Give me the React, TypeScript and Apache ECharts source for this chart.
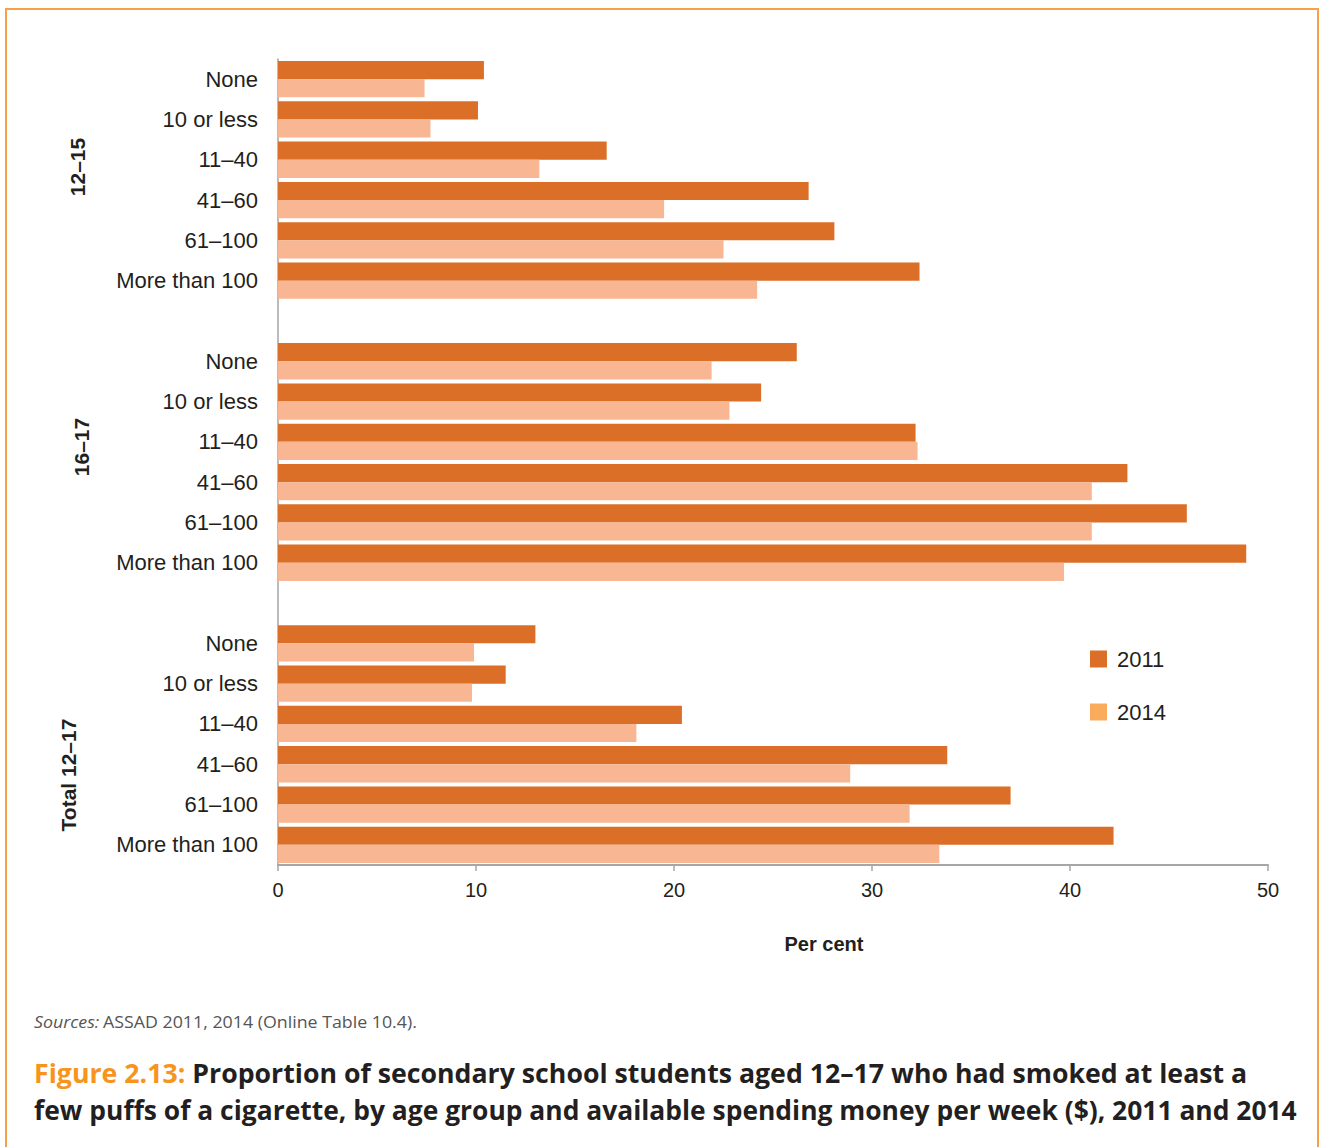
import React, { useEffect, useRef } from "react";
import * as echarts from "echarts";

const categories = ["None", "10 or less", "11–40", "41–60", "61–100", "More than 100"];
const groups = ["12–15", "16–17", "Total 12–17"];
const v2011_12_15 = [10.4, 10.1, 16.6, 26.8, 28.1, 32.4];
const v2014_12_15 = [7.4, 7.7, 13.2, 19.5, 22.5, 24.2];
const v2011_16_17 = [26.2, 24.4, 32.2, 42.9, 45.9, 48.9];
const v2014_16_17 = [21.9, 22.8, 32.3, 41.1, 41.1, 39.7];
const v2011_total = [13.0, 11.5, 20.4, 33.8, 37.0, 42.2];
const v2014_total = [9.9, 9.8, 18.1, 28.9, 31.9, 33.4];
const xTicks = [0, 10, 20, 30, 40, 50];
const seriesNames = ["2011", "2014"];
const xAxisTitle = "Per cent";

const sourceText = "ASSAD 2011, 2014 (Online Table 10.4).";
const titleLead = "Figure 2.13:";
const titleLine1 = "Proportion of secondary school students aged 12–17 who had smoked at least a";
const titleLine2 = "few puffs of a cigarette, by age group and available spending money per week ($), 2011 and 2014";

const C2011 = "#DC6F27";
const C2014 = "#F8B692";
const C2014_LEGEND = "#F9AC5C";
const TEXT = "#231F20";

function measure(text: string, font: string): number {
  const c = document.createElement("canvas").getContext("2d");
  if (!c) return text.length * 14;
  c.font = font;
  return c.measureText(text).width;
}

export default function App() {
  const ref = useRef<HTMLDivElement>(null);
  useEffect(() => {
    if (!ref.current) return;
    const chart = echarts.init(ref.current, undefined, { renderer: "svg" });

    const yData: string[] = [];
    const d2011: (number | string)[] = [];
    const d2014: (number | string)[] = [];
    const g2011 = [v2011_12_15, v2011_16_17, v2011_total];
    const g2014 = [v2014_12_15, v2014_16_17, v2014_total];
    groups.forEach((g, gi) => {
      categories.forEach((c, ci) => {
        yData.push(g + "|" + c);
        d2011.push(g2011[gi][ci]);
        d2014.push(g2014[gi][ci]);
      });
      if (gi < groups.length - 1) {
        yData.push("gap" + gi + "|");
        d2011.push("-");
        d2014.push("-");
      }
    });

    const titleFontSize = 27;
    const titleFont = "bold " + titleFontSize + "px 'Open Sans'";
    const w1 = measure(titleLead + " " + titleLine1, titleFont);
    const w2 = measure(titleLine2, titleFont);
    const s1 = 1214 / w1;
    const s2 = 1264 / w2;
    const srcFont = "16px 'Open Sans'";
    const wSrc = measure("Sources: " + sourceText, srcFont);
    const sSrc = 389 / wSrc;

    const groupLabelPos = [
      { x: 77, y: 167 },
      { x: 81, y: 447 },
      { x: 68, y: 775 },
    ];

    chart.setOption({
      animation: false,
      backgroundColor: "#ffffff",
      textStyle: { fontFamily: "'Liberation Sans', Arial, sans-serif" },
      grid: { left: 278, right: 52, top: 59, bottom: 282, containLabel: false },
      legend: {
        orient: "vertical",
        left: 1085,
        top: 643,
        itemWidth: 17,
        itemHeight: 17,
        itemGap: 31,
        icon: "rect",
        textStyle: { fontSize: 22, color: TEXT, fontFamily: "'Liberation Sans', Arial, sans-serif", padding: [0, 0, 0, 5] },
        data: [
          { name: seriesNames[0], itemStyle: { color: C2011 } },
          { name: seriesNames[1], itemStyle: { color: C2014_LEGEND } },
        ],
      },
      xAxis: {
        type: "value",
        min: 0,
        max: 50,
        interval: 10,
        axisLine: { show: true, lineStyle: { color: "#A6A6A6", width: 2 } },
        axisTick: { show: true, length: 6, lineStyle: { color: "#A6A6A6", width: 1.5 } },
        axisLabel: {
          margin: 15,
          fontSize: 20,
          color: TEXT,
          formatter: (v: number) => (xTicks.indexOf(v) >= 0 ? String(v) : ""),
        },
        splitLine: { show: false },
      },
      yAxis: {
        type: "category",
        inverse: true,
        data: yData,
        axisLine: { show: true, lineStyle: { color: "#A6A6A6", width: 1.5 } },
        axisTick: { show: false },
        axisLabel: {
          margin: 20,
          fontSize: 22,
          color: TEXT,
          interval: 0,
          formatter: (v: string) => v.split("|")[1] || "",
        },
      },
      series: [
        {
          name: seriesNames[0],
          type: "bar",
          data: d2011,
          itemStyle: { color: C2011 },
          barGap: "0%",
          barCategoryGap: "10%",
        },
        {
          name: seriesNames[1],
          type: "bar",
          data: d2014,
          itemStyle: { color: C2014 },
          barGap: "0%",
          barCategoryGap: "10%",
        },
      ],
      graphic: [
        {
          type: "rect",
          silent: true,
          shape: { x: 6, y: 9, width: 1312, height: 1160 },
          style: { fill: "none", stroke: "#F7A04B", lineWidth: 2 },
          z: 100,
        },
        {
          type: "text",
          x: 824,
          y: 944,
          style: {
            text: xAxisTitle,
            fontSize: 20,
            fontWeight: "bold",
            fill: TEXT,
            align: "center",
            verticalAlign: "middle",
            fontFamily: "'Liberation Sans', Arial, sans-serif",
          },
        },
        ...groups.map((g, i) => ({
          type: "text",
          x: groupLabelPos[i].x,
          y: groupLabelPos[i].y,
          rotation: Math.PI / 2,
          style: {
            text: g,
            fontSize: 21,
            fontWeight: "bold",
            fill: TEXT,
            align: "center",
            verticalAlign: "middle",
            fontFamily: "'Liberation Sans', Arial, sans-serif",
          },
        })),
        {
          type: "text",
          x: 34,
          y: 1022,
          scaleX: sSrc,
          style: {
            text: "{i|Sources:} {r|" + sourceText + "}",
            verticalAlign: "middle",
            rich: {
              i: { fontSize: 16, fontStyle: "italic", fill: "#555555", fontFamily: "'Open Sans'" },
              r: { fontSize: 16, fill: "#555555", fontFamily: "'Open Sans'" },
            },
          },
        },
        {
          type: "text",
          x: 34,
          y: 1072,
          scaleX: s1,
          style: {
            text: "{o|" + titleLead + "}{b| " + titleLine1 + "}",
            verticalAlign: "middle",
            rich: {
              o: { fontSize: titleFontSize, fontWeight: "bold", fill: "#F7941D", fontFamily: "'Open Sans'" },
              b: { fontSize: titleFontSize, fontWeight: "bold", fill: TEXT, fontFamily: "'Open Sans'" },
            },
          },
        },
        {
          type: "text",
          x: 34,
          y: 1109,
          scaleX: s2,
          style: {
            text: titleLine2,
            verticalAlign: "middle",
            fontSize: titleFontSize,
            fontWeight: "bold",
            fill: TEXT,
            fontFamily: "'Open Sans'",
          },
        },
      ],
    });
    return () => chart.dispose();
  }, []);
  return (
    <div
      ref={ref}
      style={{ position: "fixed", left: 0, top: 0, width: 1320, height: 1147 }}
    />
  );
}
